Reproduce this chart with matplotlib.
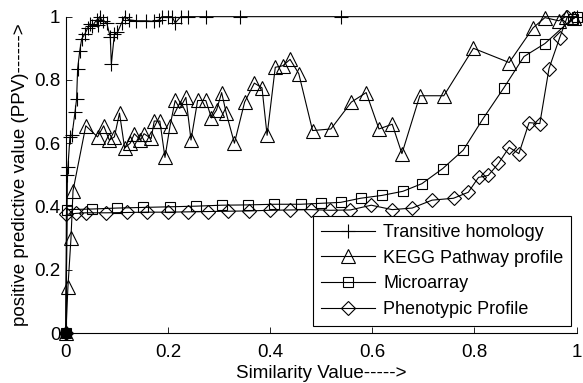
import matplotlib.pyplot as plt
from matplotlib.ticker import FormatStrFormatter

plt.rcParams['font.family'] = ['Liberation Sans', 'DejaVu Sans']

# Transitive homology
th_x = [0.0, 0.003, 0.004, 0.008, 0.012, 0.018, 0.021, 0.023, 0.027, 0.031, 0.037,
        0.043, 0.047, 0.052, 0.060, 0.062, 0.066, 0.072, 0.080, 0.087, 0.089,
        0.095, 0.101, 0.109, 0.115, 0.124, 0.138, 0.157, 0.173, 0.183, 0.188,
        0.200, 0.208, 0.214, 0.225, 0.240, 0.275, 0.340, 0.538, 1.0]
th_y = [0.0, 0.50, 0.525, 0.62, 0.625, 0.70, 0.74, 0.835, 0.89, 0.93, 0.945,
        0.965, 0.977, 0.97, 0.99, 0.975, 1.0, 0.987, 0.98, 0.935, 0.85,
        0.945, 0.95, 0.98, 1.0, 0.99, 0.987, 0.987, 0.985, 0.99, 1.0,
        1.0, 1.0, 0.98, 1.0, 1.0, 1.0, 1.0, 1.0, 1.0]

# KEGG Pathway profile
kegg_x = [0.0, 0.004, 0.010, 0.014, 0.039, 0.062, 0.074, 0.085, 0.095, 0.105,
          0.115, 0.126, 0.134, 0.146, 0.153, 0.167, 0.173, 0.184, 0.194, 0.204,
          0.214, 0.223, 0.235, 0.245, 0.258, 0.274, 0.285, 0.295, 0.305, 0.314,
          0.330, 0.350, 0.369, 0.384, 0.394, 0.410, 0.425, 0.439, 0.456, 0.483,
          0.519, 0.559, 0.588, 0.613, 0.639, 0.658, 0.693, 0.740, 0.798, 0.868,
          0.915, 0.938, 0.965, 0.979, 0.995]
kegg_y = [0.0, 0.145, 0.30, 0.45, 0.655, 0.62, 0.655, 0.61, 0.62, 0.695,
          0.585, 0.60, 0.63, 0.61, 0.63, 0.615, 0.67, 0.67, 0.555, 0.655,
          0.735, 0.71, 0.745, 0.61, 0.735, 0.735, 0.68, 0.705, 0.76, 0.695,
          0.60, 0.73, 0.79, 0.775, 0.625, 0.84, 0.845, 0.865, 0.82, 0.64,
          0.645, 0.73, 0.76, 0.645, 0.66, 0.567, 0.75, 0.75, 0.90, 0.855,
          0.965, 0.997, 0.987, 1.0, 0.995]

# Microarray
micro_x = [0.0, 0.002, 0.052, 0.100, 0.151, 0.204, 0.255, 0.305, 0.356, 0.408,
           0.460, 0.499, 0.538, 0.577, 0.619, 0.660, 0.697, 0.738, 0.778, 0.817,
           0.858, 0.897, 0.938, 0.992, 1.0]
micro_y = [0.0, 0.39, 0.392, 0.395, 0.397, 0.399, 0.401, 0.404, 0.405, 0.407,
           0.407, 0.410, 0.413, 0.426, 0.435, 0.448, 0.472, 0.52, 0.578, 0.678,
           0.776, 0.874, 0.915, 0.994, 1.0]

# Phenotypic Profile
pheno_x = [0.0, 0.001, 0.019, 0.039, 0.079, 0.119, 0.158, 0.199, 0.239, 0.278,
           0.318, 0.359, 0.400, 0.439, 0.480, 0.518, 0.557, 0.598, 0.639, 0.678,
           0.717, 0.759, 0.788, 0.808, 0.827, 0.847, 0.868, 0.887, 0.907, 0.928,
           0.946, 0.967, 0.982]
pheno_y = [0.0, 0.375, 0.378, 0.380, 0.380, 0.381, 0.382, 0.382, 0.383, 0.384,
           0.385, 0.386, 0.388, 0.389, 0.390, 0.388, 0.389, 0.404, 0.390, 0.395,
           0.420, 0.426, 0.445, 0.492, 0.498, 0.536, 0.587, 0.567, 0.665, 0.662,
           0.836, 0.934, 1.0]

fig = plt.figure(figsize=(5.83, 3.83), dpi=100)
ax = fig.add_axes([0.113, 0.1305, 0.876, 0.826])

style = dict(color='black', linewidth=0.8, mfc='none', mew=0.8, clip_on=False)
ax.plot(th_x, th_y, marker='+', markersize=10, label='Transitive homology', **style)
ax.plot(kegg_x, kegg_y, marker='^', markersize=10, label='KEGG Pathway profile', **style)
ax.plot(micro_x, micro_y, marker='s', markersize=7.5, label='Microarray', **style)
ax.plot(pheno_x, pheno_y, marker='D', markersize=7.5, label='Phenotypic Profile', **style)
# overlapping markers at the origin render as a solid block
ax.plot([0], [0], marker='s', markersize=6, color='black', clip_on=False)

ax.set_xlim(0, 1)
ax.set_ylim(0, 1)
ax.set_xticks([0, 0.2, 0.4, 0.6, 0.8, 1])
ax.set_yticks([0, 0.2, 0.4, 0.6, 0.8, 1])
ax.xaxis.set_major_formatter(FormatStrFormatter('%g'))
ax.yaxis.set_major_formatter(FormatStrFormatter('%g'))
ax.tick_params(direction='in', length=4, width=0.6, labelsize=13.5)
ax.tick_params(axis='x', pad=8)
ax.tick_params(axis='y', pad=4)
ax.spines['top'].set_visible(False)
ax.spines['right'].set_visible(False)
ax.spines['left'].set_linewidth(0.8)
ax.spines['bottom'].set_linewidth(0.8)

ax.set_xlabel('Similarity Value----->', fontsize=13.5, labelpad=3)
ax.set_ylabel('positive predictive value (PPV)------>', fontsize=13.5, labelpad=4)

leg = ax.legend(loc='lower right', bbox_to_anchor=(0.99, 0.022), borderaxespad=0,
                fontsize=13, handlelength=3.0, handletextpad=0.45, fancybox=False,
                framealpha=1, edgecolor='black', labelspacing=0.48, borderpad=0.45)
leg.get_frame().set_linewidth(0.8)

fig.savefig('out.png', dpi=100)
